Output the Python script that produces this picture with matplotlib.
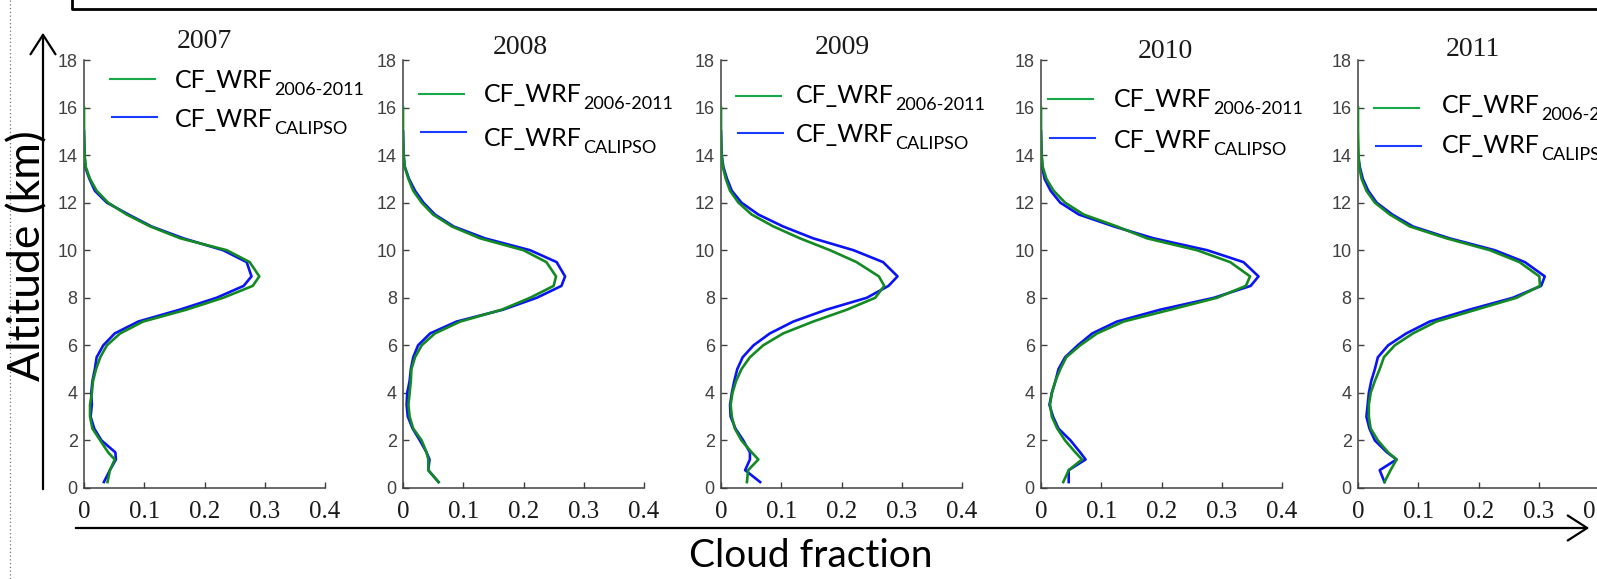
import numpy as np
import matplotlib.pyplot as plt
from matplotlib.patches import FancyArrowPatch

plt.rcParams['font.family'] = ['Lato', 'DejaVu Sans']

years = ['2007', '2008', '2009', '2010', '2011']
altitude = [0.25, 0.75, 1.2, 1.5, 2.0, 2.5, 3.0, 3.5, 4.0, 4.5, 5.0, 5.5, 6.0, 6.5, 7.0, 7.5,
            8.0, 8.5, 8.9, 9.5, 10.0, 10.5, 11.0, 11.5, 12.0, 12.5, 13.0, 13.5, 14.0, 15.0, 16.0]

# CF_WRF 2006-2011 (green) and CF_WRF CALIPSO (blue), one pair per year
cf_all_2007 = [0.039, 0.043, 0.051, 0.040, 0.027, 0.014, 0.010, 0.010, 0.013, 0.015, 0.020, 0.027, 0.038, 0.060, 0.098, 0.170,
               0.231, 0.280, 0.291, 0.275, 0.237, 0.160, 0.110, 0.071, 0.040, 0.021, 0.010, 0.003, 0.001, 0.0, 0.0]
cf_cal_2007 = [0.033, 0.043, 0.053, 0.052, 0.029, 0.017, 0.011, 0.013, 0.012, 0.014, 0.018, 0.021, 0.032, 0.051, 0.090, 0.159,
               0.220, 0.265, 0.278, 0.270, 0.231, 0.165, 0.112, 0.074, 0.038, 0.018, 0.009, 0.002, 0.001, 0.0, np.nan]
cf_all_2008 = [0.059, 0.042, 0.042, 0.039, 0.031, 0.017, 0.011, 0.009, 0.011, 0.013, 0.014, 0.020, 0.031, 0.053, 0.095, 0.164,
               0.211, 0.250, 0.254, 0.238, 0.200, 0.128, 0.081, 0.050, 0.031, 0.017, 0.009, 0.003, 0.001, 0.0, 0.0]
cf_cal_2008 = [0.059, 0.042, 0.044, 0.039, 0.028, 0.016, 0.008, 0.006, 0.007, 0.011, 0.013, 0.017, 0.025, 0.045, 0.089, 0.166,
               0.222, 0.263, 0.269, 0.255, 0.211, 0.136, 0.084, 0.053, 0.034, 0.020, 0.010, 0.003, 0.001, 0.0, np.nan]
cf_all_2009 = [0.043, 0.045, 0.062, 0.051, 0.034, 0.023, 0.018, 0.016, 0.019, 0.025, 0.034, 0.048, 0.070, 0.103, 0.153, 0.209,
               0.256, 0.271, 0.262, 0.225, 0.181, 0.131, 0.087, 0.051, 0.029, 0.015, 0.008, 0.003, 0.001, 0.0, 0.0]
cf_cal_2009 = [0.065, 0.040, 0.048, 0.048, 0.037, 0.024, 0.016, 0.015, 0.018, 0.022, 0.027, 0.036, 0.054, 0.081, 0.120, 0.175,
               0.242, 0.278, 0.293, 0.269, 0.220, 0.153, 0.103, 0.062, 0.034, 0.018, 0.010, 0.004, 0.001, 0.0, np.nan]
cf_all_2010 = [0.037, 0.046, 0.068, 0.057, 0.040, 0.027, 0.018, 0.015, 0.018, 0.024, 0.032, 0.042, 0.065, 0.093, 0.137, 0.215,
               0.292, 0.340, 0.347, 0.314, 0.259, 0.176, 0.126, 0.071, 0.040, 0.021, 0.009, 0.003, 0.001, 0.0, 0.0]
cf_cal_2010 = [0.046, 0.046, 0.074, 0.065, 0.049, 0.029, 0.020, 0.014, 0.018, 0.024, 0.029, 0.040, 0.061, 0.085, 0.126, 0.198,
               0.287, 0.348, 0.361, 0.336, 0.276, 0.187, 0.121, 0.063, 0.032, 0.016, 0.006, 0.002, 0.001, 0.0, np.nan]
cf_all_2011 = [0.044, 0.054, 0.064, 0.050, 0.033, 0.021, 0.018, 0.018, 0.021, 0.028, 0.036, 0.043, 0.061, 0.091, 0.130, 0.196,
               0.263, 0.302, 0.301, 0.268, 0.219, 0.147, 0.086, 0.053, 0.028, 0.014, 0.006, 0.002, 0.001, 0.0, 0.0]
cf_cal_2011 = [0.044, 0.036, 0.064, 0.048, 0.028, 0.019, 0.014, 0.016, 0.018, 0.022, 0.028, 0.033, 0.050, 0.080, 0.119, 0.185,
               0.257, 0.304, 0.310, 0.277, 0.227, 0.152, 0.091, 0.057, 0.031, 0.017, 0.008, 0.003, 0.0, np.nan, np.nan]

cf_all = [cf_all_2007, cf_all_2008, cf_all_2009, cf_all_2010, cf_all_2011]
cf_cal = [cf_cal_2007, cf_cal_2008, cf_cal_2009, cf_cal_2010, cf_cal_2011]

x_ticks = [0, 0.1, 0.2, 0.3, 0.4]
x_ticklabels = ['0', '0.1', '0.2', '0.3', '0.4']
y_ticks = list(range(0, 19, 2))

W, H = 1597, 579
fig = plt.figure(figsize=(W / 100, H / 100), dpi=100)


def box(x, y, w, h):
    # pixel box (from top-left) -> figure fraction
    return [x / W, 1 - (y + h) / H, w / W, h / H]


panel_left = [84, 403, 721, 1041, 1358]
title_pos = [(204, 42), (520, 47), (842, 48), (1165, 52), (1473, 50)]
# legend: (green line x0, green y, blue y, text x, green baseline, blue baseline)
leg_pos = [(110, 79, 117, 175, 88, 127),
           (419, 94, 132, 484, 102, 146),
           (736, 96, 133, 796, 103, 142),
           (1048, 99, 138, 1114, 107, 148),
           (1374, 108, 146, 1442, 113, 153)]

green = '#138a22'
blue = '#0a14f5'

for i, year in enumerate(years):
    ax = fig.add_axes(box(panel_left[i], 60, 241, 428))
    ax.plot(cf_all[i], altitude, color=green, lw=1.9, zorder=3)
    ax.plot(cf_cal[i], altitude, color=blue, lw=1.9, zorder=2)
    ax.set_xlim(0, 0.4)
    ax.set_ylim(0, 18)
    ax.set_xticks(x_ticks)
    ax.set_xticklabels(x_ticklabels, family='Liberation Serif', fontsize=18, color='#1a1a1a')
    ax.set_yticks(y_ticks)
    ax.set_yticklabels([str(v) for v in y_ticks], family='Liberation Sans', fontsize=13, color='#404040')
    ax.tick_params(axis='both', direction='in', length=4, width=1, color='#404040')
    ax.tick_params(axis='x', pad=9)
    ax.tick_params(axis='y', pad=4.5)
    for s in ['top', 'right']:
        ax.spines[s].set_visible(False)
    for s in ['left', 'bottom']:
        ax.spines[s].set_color('#404040')
        ax.spines[s].set_linewidth(1.1)
    ax.patch.set_alpha(0)

# overlay in pixel coordinates for annotations
ov = fig.add_axes([0, 0, 1, 1])
ov.set_xlim(0, W)
ov.set_ylim(H, 0)
ov.axis('off')

for i, year in enumerate(years):
    tx, ty = title_pos[i]
    ov.text(tx, ty, year, family='Liberation Serif', fontsize=20, color='#1a1a1a',
            ha='center', va='center')
    lx, gy, by, txt_x, gb, bb = leg_pos[i]
    ov.plot([lx, lx + 45], [gy, gy], color='#17a84a', lw=1.5)
    ov.plot([lx + 2, lx + 47], [by, by], color='#1a3cff', lw=1.5)
    for yb, sub in [(gb, '2006-2011'), (bb, 'CALIPSO')]:
        t = ov.text(txt_x, yb, 'CF_WRF', fontsize=18, color='black', ha='left', va='baseline')
        ov.annotate(sub, xy=(1, 0), xycoords=t, xytext=(1, -4), textcoords='offset points',
                    fontsize=13, color='black', ha='left', va='bottom')

# frame of the panel above, dotted guide and the axis arrows
ov.plot([72, 72, W + 5], [-5, 9, 9], color='black', lw=2, solid_capstyle='butt')
ov.plot([10, 10], [0, H], color='#777777', lw=0.9, ls=(0, (1, 2)))
ov.add_patch(FancyArrowPatch((43, 492), (43, 30), arrowstyle='->,head_length=0.7,head_width=0.45',
                             mutation_scale=20, color='black', lw=1.6))
ov.add_patch(FancyArrowPatch((73, 528), (1592, 528), arrowstyle='->,head_length=0.7,head_width=0.45',
                             mutation_scale=20, color='black', lw=1.6))
ov.text(28, 256, 'Altitude (km)', fontsize=32, rotation=90, ha='center', va='center', color='black')
ov.text(811, 556, 'Cloud fraction', fontsize=28, ha='center', va='center', color='black')

fig.savefig('out.png', dpi=100)
